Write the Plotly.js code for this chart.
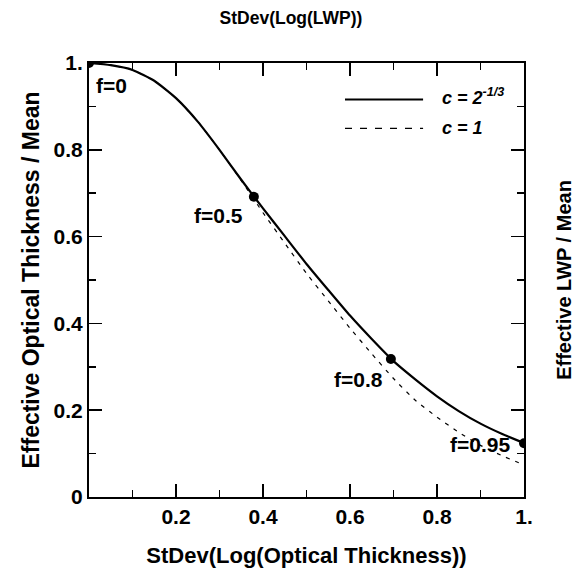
<!DOCTYPE html>
<html>
<head>
<meta charset="utf-8">
<script src="https://cdn.plot.ly/plotly-3.0.1.min.js"></script>
<style>html,body{margin:0;padding:0;background:#fff;}#plot{width:582px;height:578px;}</style>
</head>
<body>
<div id="plot"></div>
<script>
// StDev(Log(Optical Thickness)) grid
const sigma = [0, 0.05, 0.1, 0.15, 0.2, 0.25, 0.3, 0.35, 0.4, 0.45, 0.5, 0.55, 0.6, 0.65, 0.7, 0.75, 0.8, 0.85, 0.9, 0.95, 1.0];
// Effective optical thickness / mean, c = 2^(-1/3)
const effSolid = [1.0, 0.995, 0.984, 0.959, 0.919, 0.865, 0.800, 0.731, 0.665, 0.601, 0.537, 0.477, 0.418, 0.364, 0.313, 0.271, 0.232, 0.198, 0.169, 0.145, 0.124];
// Effective optical thickness / mean, c = 1
const effDashed = [1.0, 0.995, 0.984, 0.959, 0.919, 0.865, 0.800, 0.729, 0.655, 0.585, 0.515, 0.452, 0.389, 0.330, 0.273, 0.223, 0.184, 0.149, 0.119, 0.095, 0.074];
// marked fractions f
const fX = [0, 0.379, 0.694, 1.0];
const fY = [1.0, 0.692, 0.318, 0.124];
const fLabels = ["f=0", "f=0.5", "f=0.8", "f=0.95"];
// label anchor positions (data coords) and anchors
const fLabelX = [0.0115, 0.3586, 0.680, 0.9724];
const fLabelY = [0.948, 0.6486, 0.2696, 0.121];
const fLabelAnchor = ["left", "right", "right", "right"];

const xTickVals = [0.2, 0.4, 0.6, 0.8, 1.0];
const xTickText = ["0.2", "0.4", "0.6", "0.8", "1."];
const yTickVals = [0, 0.2, 0.4, 0.6, 0.8, 1.0];
const yTickText = ["0", "0.2", "0.4", "0.6", "0.8", "1."];
const minorVals = [0.1, 0.3, 0.5, 0.7, 0.9];

const FONT = "Liberation Sans, Arial, Helvetica, sans-serif";

const traces = [
  {x: sigma, y: effDashed, mode: 'lines', line: {color: 'black', width: 1.2, dash: '4px,6px', shape: 'spline', smoothing: 0.5}, showlegend: false, hoverinfo: 'skip'},
  {x: sigma, y: effSolid, mode: 'lines', line: {color: 'black', width: 2.2, shape: 'spline', smoothing: 0.5}, showlegend: false, hoverinfo: 'skip'},
  {x: fX, y: fY, mode: 'markers', marker: {color: 'black', size: 10}, cliponaxis: true, showlegend: false, hoverinfo: 'skip'},
  {x: [], y: [], yaxis: 'y2', showlegend: false}
];

const annotations = fLabels.map((t, i) => ({
  x: fLabelX[i], y: fLabelY[i], xref: 'x', yref: 'y', text: t, showarrow: false,
  xanchor: fLabelAnchor[i], yanchor: 'middle',
  font: {family: FONT, size: 21, color: 'black', weight: 'bold'}
}));
annotations.push(
  {x: 0.807, y: 0.922, xref: 'paper', yref: 'paper', text: 'c = 2<sup>-1/3</sup>', showarrow: false, xanchor: 'left', yanchor: 'middle',
   font: {family: FONT, size: 18, color: 'black', weight: 'bold', style: 'italic'}},
  {x: 0.807, y: 0.851, xref: 'paper', yref: 'paper', text: 'c = 1', showarrow: false, xanchor: 'left', yanchor: 'middle',
   font: {family: FONT, size: 18, color: 'black', weight: 'bold', style: 'italic'}}
);

const axisCommon = {
  range: [0, 1], showgrid: false, zeroline: false, showline: true, linecolor: 'black', linewidth: 2,
  ticks: 'inside', ticklen: 13, tickwidth: 1.5, tickcolor: 'black', mirror: 'ticks',
  tickmode: 'array',
  minor: {tickmode: 'array', tickvals: minorVals, ticks: 'inside', ticklen: 7, tickwidth: 1.5, tickcolor: 'black', showgrid: false},
  tickfont: {family: FONT, size: 21, color: 'black', weight: 'bold'}
};

const layout = {
  width: 582, height: 578,
  margin: {l: 89, r: 58, t: 63, b: 81},
  paper_bgcolor: 'white', plot_bgcolor: 'white',
  font: {family: FONT, color: 'black'},
  title: {text: 'StDev(Log(LWP))', x: 0.5, xref: 'container', xanchor: 'center', y: 0.969, yref: 'container', yanchor: 'middle',
          font: {family: FONT, size: 17.5, color: 'black', weight: 'bold'}},
  xaxis: Object.assign({}, axisCommon, {tickvals: xTickVals, ticktext: xTickText,
    title: {text: 'StDev(Log(Optical Thickness))', standoff: 20, font: {family: FONT, size: 22, color: 'black', weight: 'bold'}}}),
  yaxis: Object.assign({}, axisCommon, {tickvals: yTickVals, ticktext: yTickText,
    title: {text: 'Effective Optical Thickness / Mean', standoff: 8, font: {family: FONT, size: 23, color: 'black', weight: 'bold'}}}),
  yaxis2: {overlaying: 'y', side: 'right', range: [0, 1], showgrid: false, zeroline: false, showline: false,
    ticks: '', showticklabels: false,
    title: {text: 'Effective LWP / Mean', standoff: 32, font: {family: FONT, size: 20, color: 'black', weight: 'bold'}}},
  shapes: [
    {type: 'line', xref: 'paper', yref: 'paper', x0: 0.5885, x1: 0.768, y0: 0.916, y1: 0.916, line: {color: 'black', width: 2}},
    {type: 'line', xref: 'paper', yref: 'paper', x0: 0.5885, x1: 0.768, y0: 0.8495, y1: 0.8495, line: {color: 'black', width: 1.2, dash: '7px,8px'}}
  ],
  annotations: annotations
};

Plotly.newPlot('plot', traces, layout, {displayModeBar: false, staticPlot: true});
</script>
</body>
</html>
